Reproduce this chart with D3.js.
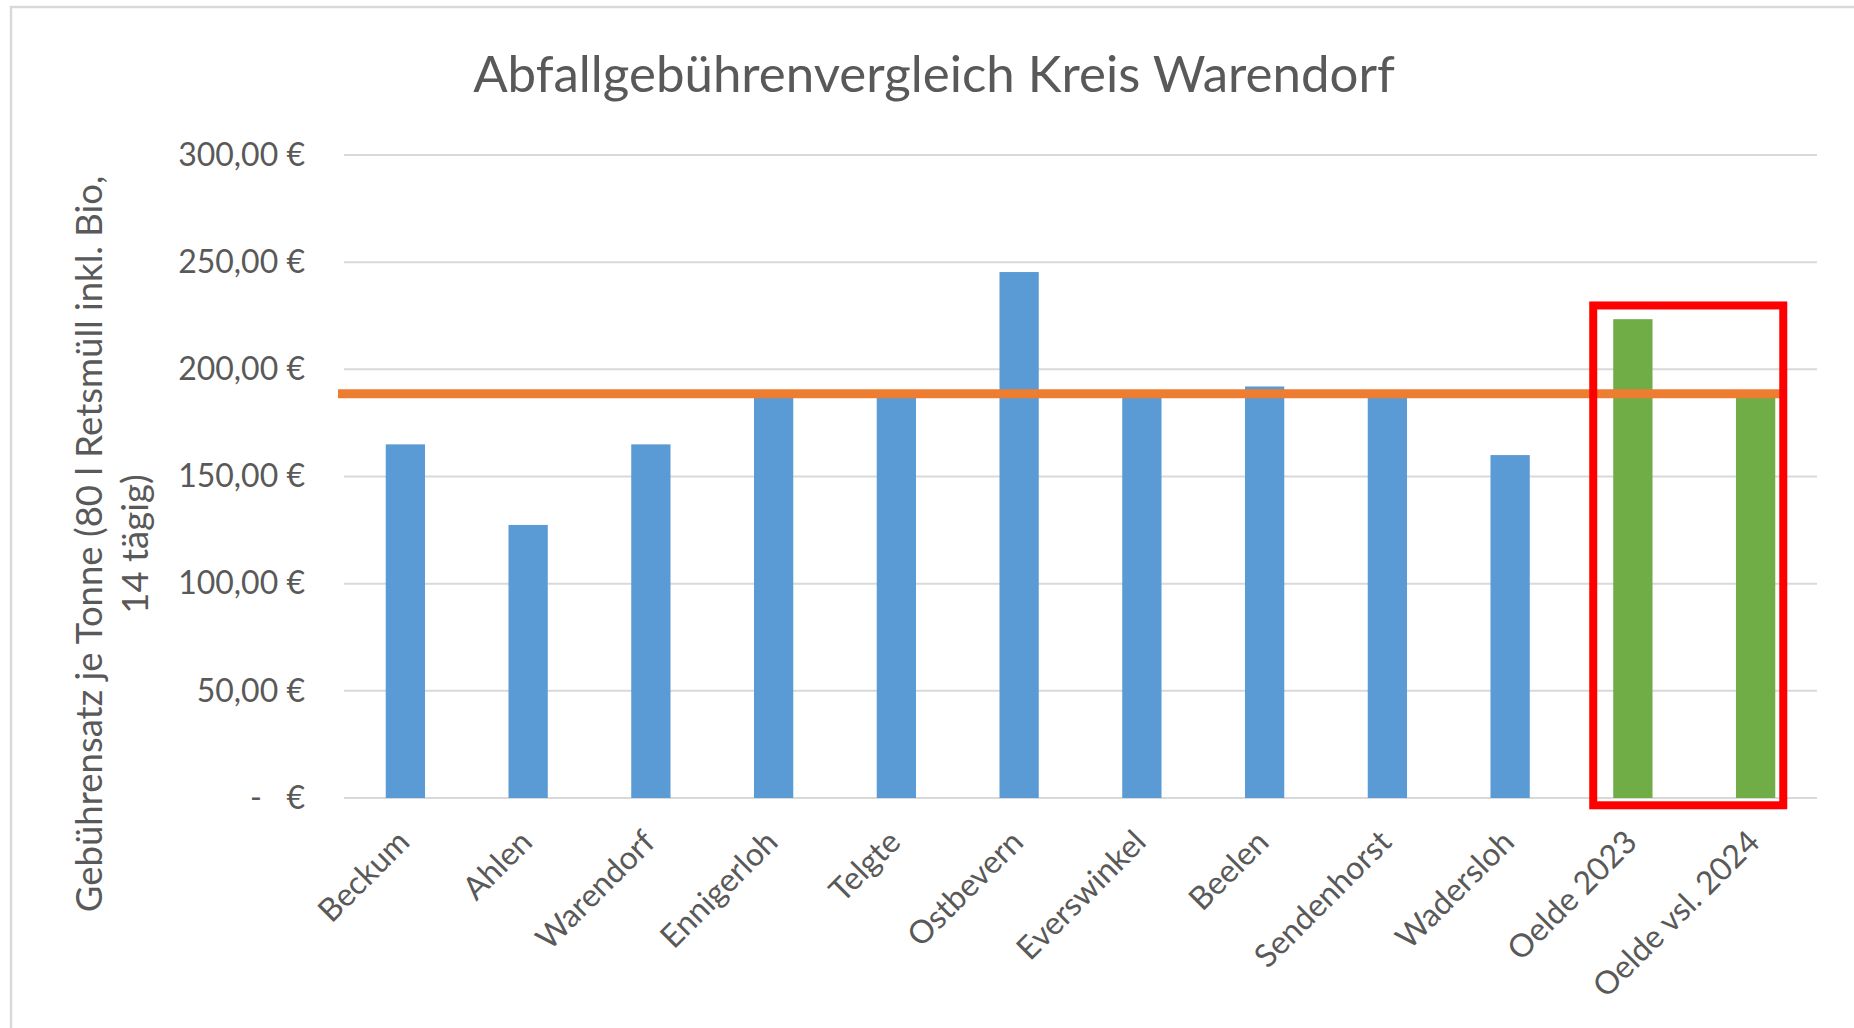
<!DOCTYPE html>
<html>
<head>
<meta charset="utf-8">
<script src="https://cdn.jsdelivr.net/npm/d3@7"></script>
<style>
  body { margin: 0; background: #fff; }
  text { font-family: Lato, "Open Sans", sans-serif; fill: #595959; }
</style>
</head>
<body>
<svg id="canvas"></svg>
<script>
// data
const categories = ['Beckum', 'Ahlen', 'Warendorf', 'Ennigerloh', 'Telgte', 'Ostbevern',
  'Everswinkel', 'Beelen', 'Sendenhorst', 'Wadersloh', 'Oelde 2023', 'Oelde vsl. 2024']
const fees = [165, 127.4, 165, 188, 188, 245.4, 188, 192, 188, 160, 223.4, 188]
const highlighted = ['Oelde 2023', 'Oelde vsl. 2024']
const averageFee = 188.6
const yTicks = [0, 50, 100, 150, 200, 250, 300]
const yTickLabels = ['-   €', '50,00 €', '100,00 €', '150,00 €', '200,00 €', '250,00 €', '300,00 €']
const titleText = 'Abfallgebührenvergleich Kreis Warendorf'
const yTitleLines = ['Gebührensatz je Tonne (80 l Retsmüll inkl. Bio,', '14 tägig)']
const boxRange = [-3.4, 229.8]

const width = 1854
const height = 1028
const svg = d3.select('#canvas')
  .attr('width', width)
  .attr('height', height)

// outer chart border
svg.append('rect')
  .attr('x', 11).attr('y', 7)
  .attr('width', width + 20).attr('height', height + 20)
  .attr('fill', 'none')
  .attr('stroke', '#d9d9d9')
  .attr('stroke-width', 2.5)

// scales
const xScale = d3.scaleBand()
  .domain(categories)
  .range([344, 1817])
  .paddingInner(0.68)
  .paddingOuter(0.34)

const yScale = d3.scaleLinear()
  .domain([0, 300])
  .range([798, 155])

// gridlines
svg.append('g')
  .selectAll('line')
  .data(yTicks)
  .enter()
  .append('line')
  .attr('x1', xScale.range()[0])
  .attr('x2', xScale.range()[1])
  .attr('y1', d => yScale(d))
  .attr('y2', d => yScale(d))
  .attr('stroke', '#d9d9d9')
  .attr('stroke-width', 2)

// y axis labels
const yAxis = d3.axisLeft(yScale)
  .tickValues(yTicks)
  .tickSize(0)
  .tickPadding(0)
  .tickFormat((d, i) => yTickLabels[i])

svg.append('g')
  .attr('id', 'y-axis')
  .attr('transform', 'translate(305,0)')
  .call(yAxis)
  .call(g => g.select('.domain').remove())
  .selectAll('text')
  .style('font-size', '32px')
  .style('white-space', 'pre')
  .attr('fill', '#595959')

// bars
svg.append('g')
  .selectAll('rect')
  .data(categories)
  .enter()
  .append('rect')
  .attr('x', d => xScale(d))
  .attr('width', xScale.bandwidth())
  .attr('y', (d, i) => yScale(fees[i]))
  .attr('height', (d, i) => yScale(0) - yScale(fees[i]))
  .attr('fill', d => highlighted.includes(d) ? '#70ad47' : '#5b9bd5')

// x axis labels
const xAxis = d3.axisBottom(xScale)
  .tickSize(0)
  .tickPadding(0)

svg.append('g')
  .attr('id', 'x-axis')
  .attr('transform', 'translate(0,' + yScale(0) + ')')
  .call(xAxis)
  .call(g => g.select('.domain').remove())
  .selectAll('text')
  .style('font-size', '32px')
  .attr('fill', '#595959')
  .attr('text-anchor', 'end')
  .attr('dy', 0)
  .attr('y', 0)
  .attr('transform', 'translate(6,46) rotate(-45)')

// average line
const boxLeft = xScale(highlighted[0]) - 20
const boxRight = xScale(highlighted[1]) + xScale.bandwidth() + 8

svg.append('line')
  .attr('x1', xScale.range()[0] - 6)
  .attr('x2', boxRight - 3)
  .attr('y1', yScale(averageFee))
  .attr('y2', yScale(averageFee))
  .attr('stroke', '#ed7d31')
  .attr('stroke-width', 9)

// highlight box
svg.append('rect')
  .attr('x', boxLeft)
  .attr('y', yScale(boxRange[1]))
  .attr('width', boxRight - boxLeft)
  .attr('height', yScale(boxRange[0]) - yScale(boxRange[1]))
  .attr('fill', 'none')
  .attr('stroke', '#ff0000')
  .attr('stroke-width', 8)

// title
svg.append('text')
  .attr('x', 934)
  .attr('y', 92)
  .attr('text-anchor', 'middle')
  .style('font-size', '51px')
  .text(titleText)

// y axis title
const yTitle = svg.append('text')
  .attr('transform', 'translate(0,544) rotate(-90)')
  .attr('text-anchor', 'middle')
  .style('font-size', '36.5px')

yTitle.selectAll('tspan')
  .data(yTitleLines)
  .enter()
  .append('tspan')
  .attr('x', 0)
  .attr('y', (d, i) => 102 + i * 46)
  .text(d => d)
</script>
</body>
</html>
